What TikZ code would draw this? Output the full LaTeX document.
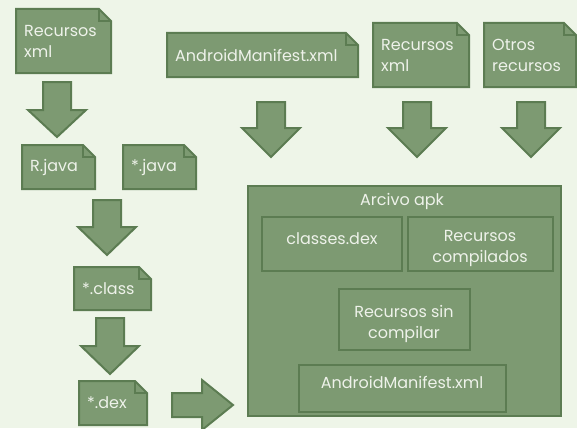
\documentclass[tikz,border=0pt]{standalone}
\usepackage{fontspec}
\setmainfont{Poppins}
\definecolor{bgc}{HTML}{EEF5E8}
\definecolor{fillc}{HTML}{7D9A72}
\definecolor{strokec}{HTML}{5C7C52}
\definecolor{txtc}{HTML}{EEF2EA}
\tikzset{
  shapestyle/.style={fill=fillc,draw=strokec,line width=2pt,line join=miter},
  txt/.style={text=txtc,font=\fontsize{16}{21}\selectfont,inner sep=0pt,align=left},
  ctxt/.style={text=txtc,font=\fontsize{16}{21}\selectfont,inner sep=0pt,align=center},
}
% name, x1, y1, x2, y2, text
\newcommand\docshape[6]{%
  \draw[shapestyle] (#2,#3) -- (#4-12,#3) -- (#4,#3+12) -- (#4,#5) -- (#2,#5) -- cycle;
  \draw[strokec,line width=1.2pt] (#4-12,#3) -- (#4-12,#3+12) -- (#4,#3+12);
  \node[txt,anchor=west] (#1) at (#2+8,{(#3+#5)/2}) {#6};
}
% name, center x, top y, head y, tip y
\newcommand\blockdown[5]{%
  \draw[shapestyle] (#2-14,#3) -- (#2+14,#3) -- (#2+14,#4) -- (#2+29,#4) -- (#2,#5)
    -- (#2-29,#4) -- (#2-14,#4) -- cycle;
  \coordinate (#1) at (#2,#5);
}
\begin{document}
\begin{tikzpicture}[x=1pt,y=-1pt]
\fill[bgc] (0,0) rectangle (577,428);
\useasboundingbox (0,0) rectangle (577,428);

\docshape{resxml}{16}{9}{111}{73}{Recursos\\xml}
\docshape{rjava}{22}{145}{95}{189}{R.java}
\docshape{starjava}{123}{145}{196}{189}{*.java}
\docshape{manifest}{167}{33}{358}{77}{AndroidManifest.xml}
\docshape{resxml2}{373}{23}{469}{87}{Recursos\\xml}
\docshape{otros}{484}{23}{576}{87}{Otros\\recursos}
\docshape{starclass}{74}{267}{151}{310}{*.class}
\docshape{stardex}{79}{381}{147}{425}{*.dex}

\blockdown{a1}{57}{82}{110}{137}
\blockdown{a2}{107}{200}{227}{255}
\blockdown{a3}{110}{318}{346}{374}
\blockdown{b1}{271}{102}{128}{157}
\blockdown{b2}{417}{102}{128}{157}
\blockdown{b3}{531}{102}{128}{157}

\draw[shapestyle] (172,393) -- (202,393) -- (202,380) -- (233,405) -- (202,430)
  -- (202,417) -- (172,417) -- cycle;
\coordinate (rtip) at (233,405);

% apk box
\draw[shapestyle] (248,186) rectangle (561,416);
\node[ctxt] (apk) at (402,201) {Arcivo apk};
\draw[strokec,line width=2pt] (262,217) rectangle (402,271);
\node[ctxt] (classes) at (332,239) {classes.dex};
\draw[strokec,line width=2pt] (408,217) rectangle (553,271);
\node[ctxt] (rcomp) at (480,248) {Recursos\\compilados};
\draw[strokec,line width=2pt] (339,289) rectangle (470,350);
\node[ctxt] (rsin) at (404,324) {Recursos sin\\compilar};
\draw[strokec,line width=2pt] (299,365) rectangle (506,412);
\node[ctxt] (am2) at (402,382) {AndroidManifest.xml};
\end{tikzpicture}
\end{document}
